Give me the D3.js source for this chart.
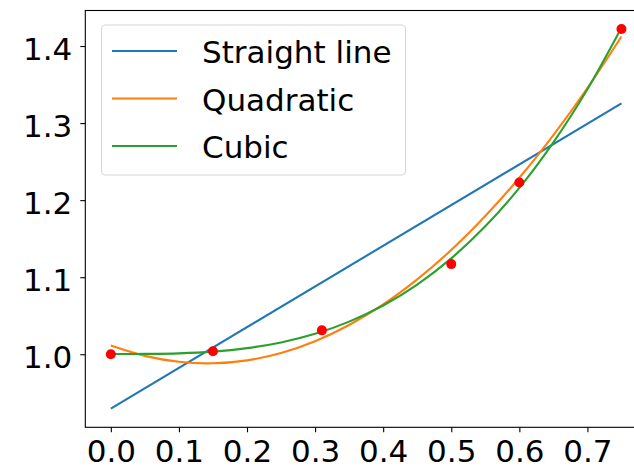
<!DOCTYPE html>
<html>
<head>
<meta charset="utf-8">
<script src="https://cdn.jsdelivr.net/npm/d3@7"></script>
<style>
  html, body { margin: 0; padding: 0; background: #fff; }
  svg { display: block; font-family: "DejaVu Sans", sans-serif; }
</style>
</head>
<body>
<svg id="chart" width="634" height="468"></svg>
<script>
// measured points
var xPoints = [0, 0.15, 0.31, 0.5, 0.6, 0.75];
var yPoints = [1.0, 1.004, 1.031, 1.117, 1.223, 1.422];

// fitted curves at these x
var fitX = [0, 0.05, 0.1, 0.15, 0.2, 0.25, 0.3, 0.35, 0.4, 0.45, 0.5, 0.55, 0.6, 0.65, 0.7, 0.75];
var quadY = [1.0113, 0.9979, 0.9902, 0.9883, 0.9921, 1.0016, 1.0169, 1.0379, 1.0646, 1.0971, 1.1353, 1.1793, 1.2290, 1.2844, 1.3455, 1.4124];
var cubicY = [1.0004, 1.0005, 1.0012, 1.0034, 1.0079, 1.0153, 1.0265, 1.0423, 1.0633, 1.0904, 1.1244, 1.1660, 1.2159, 1.2750, 1.3439, 1.4236];
var lineX = [0, 0.75];
var lineY = [0.9295, 1.3256];

var seriesNames = ["Straight line", "Quadratic", "Cubic"];
var seriesColors = ["#1f77b4", "#ff7f0e", "#2ca02c"];
var xTicks = [0, 0.1, 0.2, 0.3, 0.4, 0.5, 0.6, 0.7];
var yTicks = [1.0, 1.1, 1.2, 1.3, 1.4];

var svg = d3.select("#chart");
var fontSize = 31;

// axes box (right edge runs past the picture, as in the original)
var x = d3.scaleLinear().domain([-0.0375, 0.7875]).range([85.3, 647]);
var y = d3.scaleLinear().domain([0.9052, 1.4461]).range([427.3, 10.5]);

var series = [
  d3.zip(lineX, lineY),
  d3.zip(fitX, quadY),
  d3.zip(fitX, cubicY)
];

var lineGen = d3.line()
    .x(function(d) { return x(d[0]); })
    .y(function(d) { return y(d[1]); })
    .curve(d3.curveCatmullRom);

svg.selectAll(".fit")
    .data(series)
    .enter().append("path")
      .attr("class", "fit")
      .attr("d", lineGen)
      .attr("fill", "none")
      .attr("stroke", function(d, i) { return seriesColors[i]; })
      .attr("stroke-width", 2.1);

svg.selectAll(".pt")
    .data(d3.zip(xPoints, yPoints))
    .enter().append("circle")
      .attr("class", "pt")
      .attr("cx", function(d) { return x(d[0]); })
      .attr("cy", function(d) { return y(d[1]); })
      .attr("r", 5)
      .attr("fill", "red");

// frame
svg.append("rect")
    .attr("x", x.range()[0])
    .attr("y", y.range()[1])
    .attr("width", x.range()[1] - x.range()[0])
    .attr("height", y.range()[0] - y.range()[1])
    .attr("fill", "none")
    .attr("stroke", "#000")
    .attr("stroke-width", 1.1);

var xAxis = svg.append("g")
    .attr("transform", "translate(0," + y.range()[0] + ")")
    .call(d3.axisBottom(x).tickValues(xTicks).tickFormat(d3.format(".1f")).tickSize(5).tickPadding(8).tickSizeOuter(0));

var yAxis = svg.append("g")
    .attr("transform", "translate(" + x.range()[0] + ",0)")
    .call(d3.axisLeft(y).tickValues(yTicks).tickFormat(d3.format(".1f")).tickSize(5).tickPadding(8).tickSizeOuter(0));

[xAxis, yAxis].forEach(function(a) {
  a.select(".domain").remove();
  a.selectAll("line").attr("stroke", "#000").attr("stroke-width", 1.1);
  a.selectAll("text")
      .attr("fill", "#000")
      .style("font-family", "DejaVu Sans")
      .style("font-size", fontSize + "px");
});
yAxis.selectAll("text").attr("dy", "0.43em");

// legend
var legend = svg.append("g");
legend.append("rect")
    .attr("x", 101.5).attr("y", 25)
    .attr("width", 304).attr("height", 150)
    .attr("rx", 4).attr("ry", 4)
    .attr("fill", "#fff").attr("fill-opacity", 0.8)
    .attr("stroke", "#d6d6d6").attr("stroke-width", 1.1);

var rows = legend.selectAll(".row")
    .data(seriesNames)
    .enter().append("g")
      .attr("class", "row")
      .attr("transform", function(d, i) { return "translate(0," + (51 + i * 47.5) + ")"; });

rows.append("line")
    .attr("x1", 112).attr("x2", 177)
    .attr("stroke", function(d, i) { return seriesColors[i]; })
    .attr("stroke-width", 2.1);

rows.append("text")
    .attr("x", 202)
    .attr("dy", "0.39em")
    .style("font-size", fontSize + "px")
    .attr("fill", "#000")
    .text(function(d) { return d; });
</script>
</body>
</html>
